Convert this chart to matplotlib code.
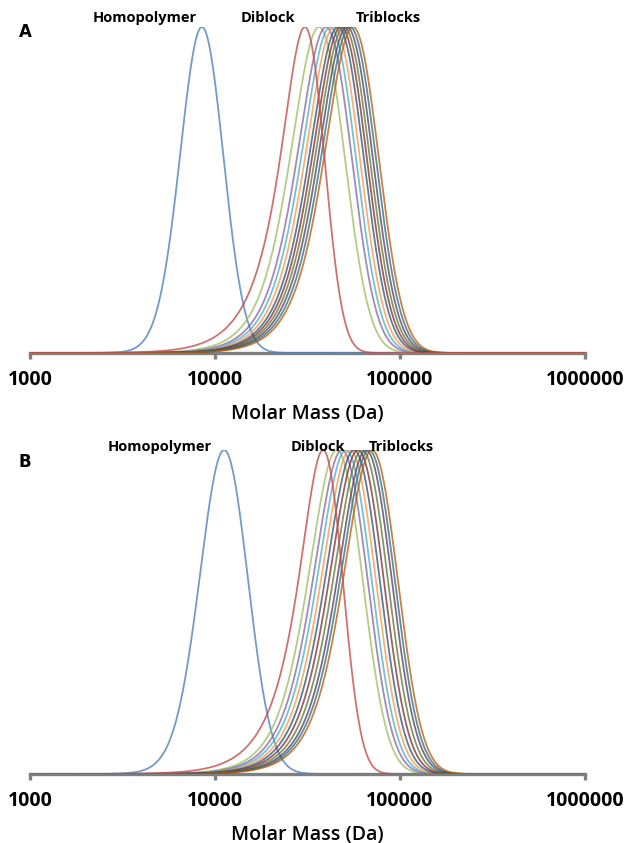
import math
import numpy as np
import matplotlib
matplotlib.use("Agg")
import matplotlib.pyplot as plt

# peak molar masses (Da), widths in decades of log10(M)
a_homo_peak = 8500
a_diblock_peak = 30600
a_triblock_peaks = [36500, 39800, 41900, 44000, 46200, 48000, 49800, 51700, 53700, 55700]

b_homo_peak = 11200
b_diblock_peak = 38400
b_triblock_peaks = [45600, 48500, 51000, 53700, 56400, 59300, 62400, 65500, 68000, 70600]

# (gaussian width, low-mass tail length) in decades
a_homo_width = (0.11, 0.045)
b_homo_width = (0.12, 0.06)
diblock_width = (0.085, 0.14)
triblock_width = (0.12, 0.12)

homo_color = "#4F81BD"
diblock_color = "#C0504D"
triblock_colors = ["#9BBB59", "#8064A2", "#4BACC6", "#F79646", "#2C4D75",
                   "#772C2A", "#5F7530", "#4D3B62", "#276A7C", "#B65708"]

tick_values = [1000, 10000, 100000, 1000000]
tick_labels = ["1000", "10000", "100000", "1000000"]

erfc = np.vectorize(math.erfc)


def trace(logm, peak, sigma, tau):
    # exponentially modified gaussian with the tail towards low mass
    lam = 1.0 / tau
    u = np.log10(peak) - logm
    grid = np.linspace(-1, 1, 4001)
    g = np.exp(lam / 2 * (lam * sigma ** 2 - 2 * grid)) * erfc((lam * sigma ** 2 - grid) / (math.sqrt(2) * sigma))
    u0 = grid[np.argmax(g)]
    uu = u + u0
    f = np.exp(lam / 2 * (lam * sigma ** 2 - 2 * uu)) * erfc((lam * sigma ** 2 - uu) / (math.sqrt(2) * sigma))
    return f / g.max()


def draw_panel(ax, homo, homo_w, diblock, triblocks):
    logm = np.linspace(3, 6, 1500)
    m = 10 ** logm
    ax.plot(m, trace(logm, homo, *homo_w), color=homo_color, lw=1.3, alpha=0.8)
    for pk, c in zip(triblocks, triblock_colors):
        ax.plot(m, trace(logm, pk, *triblock_width), color=c, lw=1.3, alpha=0.75)
    ax.plot(m, trace(logm, diblock, *diblock_width), color=diblock_color, lw=1.3, alpha=0.8)

    ax.set_xscale("log")
    ax.set_xlim(1000, 1000000)
    ax.set_ylim(0, 1)
    ax.set_xticks(tick_values)
    ax.set_xticklabels(tick_labels)
    ax.minorticks_off()
    ax.set_yticks([])
    for s in ["top", "left", "right"]:
        ax.spines[s].set_visible(False)
    ax.spines["bottom"].set_color("#7f7f7f")
    ax.spines["bottom"].set_linewidth(2.4)
    ax.spines["bottom"].set_zorder(0)
    ax.tick_params(axis="x", direction="out", length=4, width=2.4, color="#7f7f7f",
                   pad=8, labelsize=14)
    for lab in ax.get_xticklabels():
        lab.set_fontweight("bold")
        lab.set_family(["Open Sans", "DejaVu Sans"])
    ax.set_xlabel("Molar Mass (Da)", fontsize=14, family=["Open Sans", "DejaVu Sans"],
                  fontweight="semibold", labelpad=10)
    ax.patch.set_alpha(0)


fig = plt.figure(figsize=(6.28, 8.43), dpi=100)
W, H = 628, 843

# panel A: axis line at y=353 px, peak tops at y=27 px
axA = fig.add_axes([30 / W, 1 - 353 / H, 555 / W, 326 / H])
axB = fig.add_axes([30 / W, 1 - 774 / H, 555 / W, 324 / H])
draw_panel(axA, a_homo_peak, a_homo_width, a_diblock_peak, a_triblock_peaks)
draw_panel(axB, b_homo_peak, b_homo_width, b_diblock_peak, b_triblock_peaks)

lab_font = dict(fontsize=10.5, fontweight="bold", family=["Open Sans", "DejaVu Sans"],
                ha="center", va="center")
fig.text(145 / W, 1 - 18 / H, "Homopolymer", **lab_font)
fig.text(268 / W, 1 - 18 / H, "Diblock", **lab_font)
fig.text(388 / W, 1 - 18 / H, "Triblocks", **lab_font)
fig.text(160 / W, 1 - 447 / H, "Homopolymer", **lab_font)
fig.text(318 / W, 1 - 447 / H, "Diblock", **lab_font)
fig.text(401 / W, 1 - 447 / H, "Triblocks", **lab_font)
fig.text(25 / W, 1 - 32 / H, "A", fontsize=12, fontweight="bold", ha="center", va="center")
fig.text(25 / W, 1 - 462 / H, "B", fontsize=12, fontweight="bold", ha="center", va="center")

fig.savefig("out.png", dpi=100)
